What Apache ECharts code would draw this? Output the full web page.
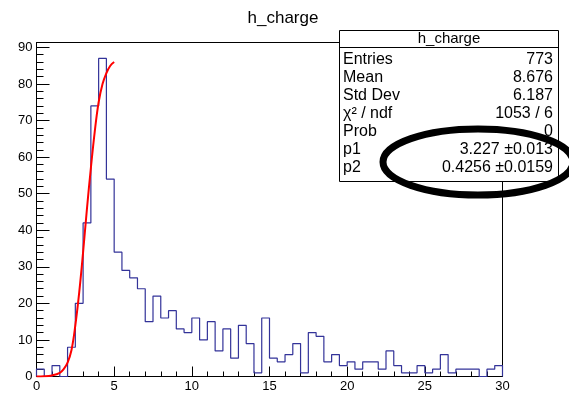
<!DOCTYPE html>
<html><head><meta charset="utf-8">
<script src="https://cdn.jsdelivr.net/npm/echarts@6/dist/echarts.min.js"></script>
<style>html,body{margin:0;padding:0;background:#fff}#c{width:569px;height:399px}</style>
</head><body><div id="c"></div>
<script>
// histogram h_charge: 60 bins from 0 to 30
const binLow = 0;
const binWidth = 0.5;
const counts = [
  2, 0, 3, 0, 8, 20, 42, 74, 87, 54,
  34, 29, 27, 24, 15, 22, 16, 18, 13, 12,
  16, 10, 15, 7, 13, 5, 14, 9, 1, 16,
  5, 4, 6, 9, 1, 12, 11, 4, 6, 3,
  4, 2, 4, 4, 2, 7, 3, 1, 1, 3,
  1, 2, 6, 1, 2, 2, 2, 0, 2, 3
];
// fitted curve
const fitX = [0, 0.5, 1.0, 1.5, 1.75, 2.0, 2.25, 2.5, 2.75, 3.0, 3.25, 3.5, 3.75, 4.0, 4.25, 4.5, 4.75, 5.0];
const fitY = [0.0, 0.05, 0.3, 1.0, 2.0, 3.8, 7.2, 14, 23, 34, 46, 57, 67, 75, 80, 83, 85, 86];
const statsLabels = ['Entries', 'Mean', 'Std Dev', 'χ² / ndf', 'Prob', 'p1', 'p2'];
const statsValues = ['773', '8.676', '6.187', '1053 / 6', '0', '3.227 ±0.013', '0.4256 ±0.0159'];
const titleText = 'h_charge';

const xMax = binLow + counts.length * binWidth;
const yMax = 91.35;

const hist = [[binLow, 0]];
counts.forEach((c, i) => hist.push([binLow + i * binWidth, c]));
hist.push([xMax, counts[counts.length - 1]]);
hist.push([xMax, 0]);
const fit = fitX.map((x, i) => [x, fitY[i]]);

const FONT = '"Liberation Sans", Arial, sans-serif';
const chart = echarts.init(document.getElementById('c'), null, {renderer: 'canvas'});

const graphics = [];
const bx = 339.5, by = 30.5, bw = 219, bh = 151;
graphics.push({type: 'rect', z: 100, shape: {x: bx, y: by, width: bw, height: bh}, style: {fill: '#fff', stroke: '#000', lineWidth: 1}});
graphics.push({type: 'line', z: 101, shape: {x1: bx, y1: 47.5, x2: bx + bw, y2: 47.5}, style: {stroke: '#000', lineWidth: 1}});
graphics.push({type: 'text', z: 101, x: bx + bw / 2, y: 39, style: {text: titleText, font: '15px ' + FONT, fill: '#000', align: 'center', verticalAlign: 'middle'}});
statsLabels.forEach((l, i) => {
  const yy = 60 + i * 18;
  graphics.push({type: 'text', z: 101, x: 343, y: yy, style: {text: l, font: '16px ' + FONT, fill: '#000', align: 'left', verticalAlign: 'middle'}});
  graphics.push({type: 'text', z: 101, x: 553, y: yy, style: {text: statsValues[i], font: '16px ' + FONT, fill: '#000', align: 'right', verticalAlign: 'middle'}});
});
graphics.push({type: 'ellipse', z: 120, shape: {cx: 478, cy: 162, rx: 95, ry: 33}, style: {fill: 'none', stroke: '#000', lineWidth: 7}});

const option = {
  animation: false,
  backgroundColor: '#fff',
  title: {text: titleText, left: 278, top: 5, textAlign: 'center', textStyle: {fontFamily: FONT, fontSize: 17, fontWeight: 'normal', color: '#000'}},
  grid: {left: 36.5, right: 66.5, top: 42.5, bottom: 22.5, show: true, borderColor: '#000', borderWidth: 1, backgroundColor: 'transparent'},
  xAxis: {
    type: 'value', min: 0, max: xMax, interval: 5,
    axisLine: {show: true, onZero: false, lineStyle: {color: '#000', width: 1}},
    axisTick: {show: true, inside: true, length: 10, lineStyle: {color: '#000'}},
    minorTick: {show: true, splitNumber: 5, length: 5, lineStyle: {color: '#000'}},
    splitLine: {show: false},
    axisLabel: {margin: 3, fontFamily: FONT, fontSize: 13, color: '#000'}
  },
  yAxis: [{
    type: 'value', min: 0, max: yMax, interval: 10,
    axisLine: {show: true, onZero: false, lineStyle: {color: '#000', width: 1}},
    axisTick: {show: true, inside: true, length: 13, lineStyle: {color: '#000'}},
    splitLine: {show: false},
    axisLabel: {margin: 4, fontFamily: FONT, fontSize: 13, color: '#000', showMaxLabel: false,
      formatter: v => (Math.abs(v % 10) < 1e-6 ? String(v) : '')}
  }, {
    type: 'value', min: 0, max: yMax, interval: 2, position: 'left',
    axisLine: {show: false},
    axisTick: {show: true, inside: true, length: 7, lineStyle: {color: '#000'}},
    splitLine: {show: false},
    axisLabel: {show: false}
  }],
  series: [{
    type: 'line', data: hist, step: 'end', showSymbol: false, yAxisIndex: 0,
    lineStyle: {color: '#333399', width: 1.2}, z: 3
  }, {
    type: 'line', data: fit, smooth: 0.4, showSymbol: false, yAxisIndex: 0,
    lineStyle: {color: '#ff0000', width: 2}, z: 4
  }],
  graphic: graphics
};
chart.setOption(option);
</script></body></html>
